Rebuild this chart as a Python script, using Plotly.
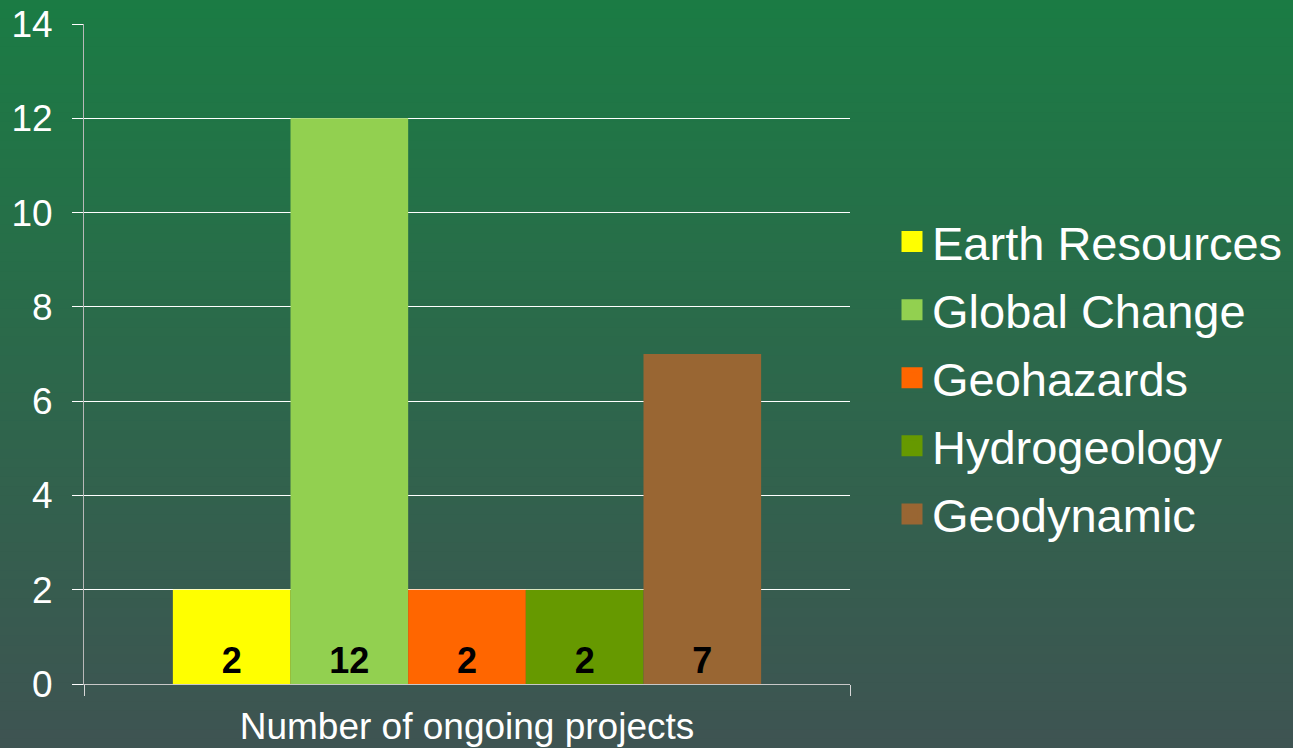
import plotly.graph_objects as go

category = ["Number of ongoing projects"]
series_names = ["Earth Resources", "Global Change", "Geohazards", "Hydrogeology", "Geodynamic"]
series_values = [2, 12, 2, 2, 7]
series_colors = ["#FFFF00", "#92D050", "#FF6600", "#669900", "#996633"]
y_ticks = [0, 2, 4, 6, 8, 10, 12, 14]

W, H = 1293, 748
L, R, T, B = 84, 443, 24, 64
pw, ph = W - L - R, H - T - B

FONT = "Liberation Sans, Arial, sans-serif"

fig = go.Figure()
for name, val, col in zip(series_names, series_values, series_colors):
    fig.add_trace(go.Bar(
        x=category, y=[val], name=name,
        marker=dict(color=col, line=dict(width=0)),
        texttemplate="%{y}",
        textposition="inside", insidetextanchor="start",
        textfont=dict(family=FONT, size=36, color="black", weight="bold"),
        showlegend=False, hoverinfo="skip",
    ))
    fig.add_trace(go.Scatter(
        x=[None], y=[None], mode="markers", name=name, legendgroup=name,
        marker=dict(symbol="square", size=16, color=col,
                    line=dict(color=col, width=5)),
        showlegend=True,
    ))

# vertical gradient background
top = (27, 123, 68)
bot = (62, 84, 82)
n = 80
shapes = []
y0p = -B / ph
y1p = 1 + T / ph
for i in range(n):
    f = i / (n - 1)
    c = tuple(round(top[k] + (bot[k] - top[k]) * f) for k in range(3))
    ya = y1p - (y1p - y0p) * i / n
    yb = y1p - (y1p - y0p) * (i + 1) / n
    shapes.append(dict(type="rect", xref="paper", yref="paper",
                       x0=-L / pw - 0.01, x1=1 + R / pw + 0.01, y0=yb - 0.002, y1=ya,
                       fillcolor="rgb(%d,%d,%d)" % c, line=dict(width=0), layer="below"))

fig.update_layout(
    width=W, height=H,
    margin=dict(l=L, r=R, t=T, b=B, pad=0),
    paper_bgcolor="rgb(45,104,75)",
    plot_bgcolor="rgba(0,0,0,0)",
    barmode="group", bargap=0.232, bargroupgap=0,
    shapes=shapes,
    font=dict(family=FONT, color="white"),
    legend=dict(xref="container", yref="container", x=892 / W, xanchor="left",
                y=1 - 378 / H, yanchor="middle",
                font=dict(family=FONT, size=47, color="white"),
                bgcolor="rgba(0,0,0,0)", itemwidth=30,
                traceorder="grouped", tracegroupgap=4),
    xaxis=dict(automargin=False, showline=True, linecolor="#c8c8c8", linewidth=1,
               showgrid=True, gridcolor="white", gridwidth=1,
               tickson="boundaries", ticks="outside", ticklen=11, tickcolor="#d8d8d8",
               ticklabelstandoff=10,
               tickfont=dict(family=FONT, size=37, color="white")),
    yaxis=dict(automargin=False, range=[0, 14], tickvals=y_ticks, showline=True,
               linecolor="#b8b8b8", linewidth=1, showgrid=True, gridcolor="white",
               gridwidth=1, zeroline=False, ticks="outside", ticklen=11,
               tickcolor="white", ticklabelstandoff=12,
               tickfont=dict(family=FONT, size=37, color="white")),
)

fig.write_html("out.html", config={"displayModeBar": False},
               post_script="document.body.style.margin='0';")
